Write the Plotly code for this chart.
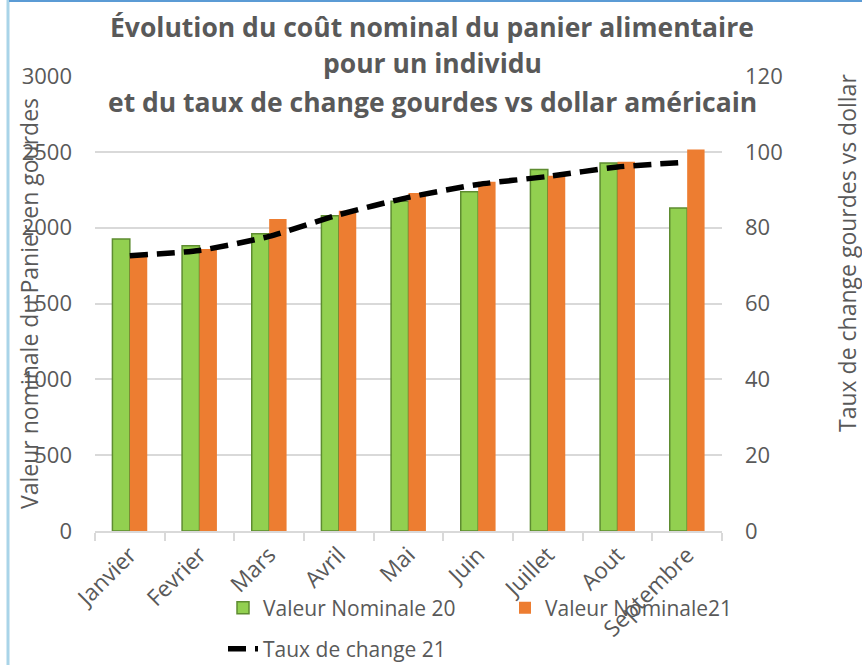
import plotly.graph_objects as go

months = ["Janvier", "Fevrier", "Mars", "Avril", "Mai", "Juin", "Juillet", "Aout", "Septembre"]
valeur_2020 = [1925, 1881, 1960, 2079, 2174, 2236, 2383, 2427, 2130]
valeur_2021 = [1815, 1859, 2057, 2112, 2229, 2302, 2343, 2434, 2515]
taux_2021 = [72.6, 74.0, 77.7, 83.4, 88.0, 91.4, 93.5, 96.0, 97.3]

left_ticks = [0, 500, 1000, 1500, 2000, 2500, 3000]
right_ticks = [0, 20, 40, 60, 80, 100, 120]

GRAY = "#595959"
FONT = "Open Sans"

fig = go.Figure()
fig.add_trace(go.Bar(
    x=months, y=valeur_2020, name="Valeur Nominale 20",
    marker=dict(color="#92D050", line=dict(color="#5E8C31", width=1.5)),
    legend="legend",
))
fig.add_trace(go.Bar(
    x=months, y=valeur_2021, name="Valeur Nominale21",
    marker=dict(color="#ED7D31", line=dict(width=0)),
    legend="legend",
))
fig.add_trace(go.Scatter(
    x=months, y=taux_2021, name="Taux de change 21", yaxis="y2",
    mode="lines", line=dict(color="black", width=5.5, dash="18px,9px", shape="spline", smoothing=0.6),
    legend="legend2",
))

W, H = 862, 665
L, R, T, B = 95, 140, 76, 134
pw, ph = W - L - R, H - T - B

def px(x):
    return (x - L) / pw

def py(y):
    return (H - B - y) / ph

annotations = []
for text, y in [("Évolution du coût nominal du panier alimentaire", 27),
                ("pour un individu", 63),
                ("et du taux de change gourdes vs dollar américain", 102)]:
    annotations.append(dict(text="<b>" + text + "</b>", x=px(432), y=py(y), xref="paper", yref="paper",
                            xanchor="center", yanchor="middle", showarrow=False,
                            font=dict(family=FONT, size=26.5, color=GRAY)))
annotations.append(dict(text="Valeur nominale du Panier en gourdes", x=px(29), y=py(304),
                        xref="paper", yref="paper", textangle=-90, showarrow=False,
                        xanchor="center", yanchor="middle",
                        font=dict(family=FONT, size=23, color=GRAY)))
annotations.append(dict(text="Taux de change gourdes vs dollar", x=px(847), y=py(253),
                        xref="paper", yref="paper", textangle=-90, showarrow=False,
                        xanchor="center", yanchor="middle",
                        font=dict(family=FONT, size=23, color=GRAY)))

shapes = [
    dict(type="line", xref="paper", yref="paper", x0=px(8), x1=px(8), y0=py(0), y1=py(665),
         line=dict(color="#A9D4E8", width=3)),
    dict(type="line", xref="paper", yref="paper", x0=px(9), x1=px(862), y0=py(1), y1=py(1),
         line=dict(color="#5B9BD5", width=2)),
]

fig.update_layout(
    width=W, height=H,
    margin=dict(l=L, r=R, t=T, b=B, autoexpand=False),
    paper_bgcolor="white", plot_bgcolor="white",
    barmode="group", bargap=0.5, bargroupgap=0,
    font=dict(family=FONT, size=21, color=GRAY),
    annotations=annotations,
    shapes=shapes,
    xaxis=dict(
        type="category", tickangle=-45, showgrid=False, automargin=False,
        showline=True, linecolor="#D9D9D9", linewidth=1.5,
        ticks="outside", tickson="boundaries", ticklen=8, tickcolor="#D9D9D9", tickwidth=1.5,
        tickfont=dict(family=FONT, size=22.5, color=GRAY),
    ),
    yaxis=dict(
        range=[0, 3000], tickvals=left_ticks, ticktext=[str(v) for v in left_ticks],
        showgrid=True, gridcolor="#D9D9D9", gridwidth=1.5, zeroline=False, showline=False,
        ticks="", ticklabelstandoff=22, automargin=False,
        tickfont=dict(family=FONT, size=22, color=GRAY),
    ),
    yaxis2=dict(
        range=[0, 120], tickvals=right_ticks, ticktext=[str(v) for v in right_ticks],
        overlaying="y", side="right", showgrid=False, zeroline=False, showline=False,
        ticks="", ticklabelstandoff=22, automargin=False,
        tickfont=dict(family=FONT, size=22, color=GRAY),
    ),
    legend=dict(orientation="h", x=px(223), y=py(608), xanchor="left", yanchor="middle",
                entrywidth=237, entrywidthmode="pixels",
                font=dict(family=FONT, size=21, color=GRAY), bgcolor="rgba(0,0,0,0)"),
    legend2=dict(orientation="h", x=px(223), y=py(649), xanchor="left", yanchor="middle",
                 font=dict(family=FONT, size=21, color=GRAY), bgcolor="rgba(0,0,0,0)"),
    showlegend=True,
)

fig.write_html("out.html", config={"displayModeBar": False},
               post_script="document.body.style.margin='0';document.body.style.overflow='hidden';")
